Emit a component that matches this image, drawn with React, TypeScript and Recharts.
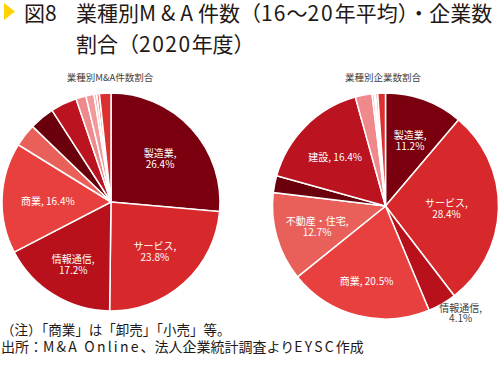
import { PieChart, Pie, Cell } from 'recharts'

const CATEGORIES = ['製造業', 'サービス', '情報通信', '商業', '不動産・住宅', '運輸', '建設', '金融', '電気・ガス', '農林水産', '鉱業', 'その他']
// 業種別M&A件数割合 (%)
const MA_SHARE = [26.4, 23.8, 17.2, 16.4, 3.4, 3.7, 3.9, 1.5, 1.2, 0.4, 0.4, 1.7]
// 業種別企業数割合 (%)
const COMPANY_SHARE = [11.2, 28.4, 4.1, 20.5, 12.7, 2.4, 16.4, 2.4, 0.3, 0.2, 0.3, 1.1]

const COLORS = ['#7a0010', '#d7282b', '#b8111c', '#e8403f', '#e9605a', '#6a000c', '#bb1320', '#f0898b', '#f29a9b', '#f6b3b3', '#ef7f80', '#dc2f2f']

const FONT = '"Noto Sans CJK JP", "Noto Sans", sans-serif'

type LabelLayout = { rf: number; wrap: boolean; outside?: boolean; dx?: number; dy?: number }

const MA_LABELS: Record<string, LabelLayout> = {
  製造業: { rf: 0.61, wrap: true },
  サービス: { rf: 0.6, wrap: true },
  情報通信: { rf: 0.66, wrap: true },
  商業: { rf: 0.58, wrap: false },
}

const COMPANY_LABELS: Record<string, LabelLayout> = {
  製造業: { rf: 0.63, wrap: true },
  サービス: { rf: 0.54, wrap: true },
  情報通信: { rf: 1.16, wrap: true, outside: true, dx: 9.5, dy: -7.5 },
  商業: { rf: 0.68, wrap: false },
  '不動産・住宅': { rf: 0.63, wrap: true },
  建設: { rf: 0.63, wrap: false },
}

const maData = CATEGORIES.map((name, i) => ({ name, value: MA_SHARE[i] }))
const companyData = CATEGORIES.map((name, i) => ({ name, value: COMPANY_SHARE[i] }))

const RAD = Math.PI / 180

function makeLabel(layout: Record<string, LabelLayout>) {
  return (props: any) => {
    const { cx, cy, midAngle, outerRadius, name, value } = props
    const l = layout[name]
    if (!l) return null
    const r = outerRadius * l.rf
    const x = cx + r * Math.cos(-midAngle * RAD) + (l.dx ?? 0)
    const y = cy + r * Math.sin(-midAngle * RAD) + (l.dy ?? 0)
    const fill = l.outside ? '#404040' : '#fff'
    const lines = l.wrap ? [`${name},`, `${value.toFixed(1)}%`] : [`${name}, ${value.toFixed(1)}%`]
    const lh = l.outside ? 10 : 11
    const y0 = y - ((lines.length - 1) * lh) / 2
    return (
      <text x={x} y={y0} fill={fill} fontSize={10} fontFamily={FONT} textAnchor="middle" dominantBaseline="central">
        {lines.map((t, i) => (
          <tspan key={i} x={x} dy={i === 0 ? 0 : lh}>
            {t}
          </tspan>
        ))}
      </text>
    )
  }
}

const wide = (t: string, ls: number) => <span style={{ letterSpacing: ls }}>{t}</span>

export default function App() {
  return (
    <div style={{ position: 'absolute', left: 0, top: 0, width: 500, height: 366, background: '#fff', fontFamily: FONT, color: '#231815', overflow: 'hidden' }}>
      <svg width={12} height={18} style={{ position: 'absolute', left: 4, top: 3 }}>
        <polygon points="0,0 11,8.5 0,17" fill="#ffd200" />
      </svg>
      <div style={{ position: 'absolute', left: 24, top: 0, fontSize: 21, lineHeight: '25px' }}>図{wide('8', 1)}</div>
      <div style={{ position: 'absolute', left: 76, top: 0, fontSize: 21, lineHeight: '25px', whiteSpace: 'nowrap' }}>
        業種別{wide('M&A', 5)}件数（{wide('16', 1)}～{wide('20', 2)}年平均）・企業数
      </div>
      <div style={{ position: 'absolute', left: 76, top: 30, fontSize: 21, lineHeight: '26px', whiteSpace: 'nowrap' }}>
        割合（{wide('2020', 1.5)}年度）
      </div>

      <div style={{ position: 'absolute', left: 10, width: 200, top: 70, textAlign: 'center', fontSize: 9.5, color: '#404040' }}>業種別M&amp;A件数割合</div>
      <div style={{ position: 'absolute', left: 283, width: 200, top: 70, textAlign: 'center', fontSize: 9.5, color: '#404040' }}>業種別企業数割合</div>

      <div style={{ position: 'absolute', left: 0, top: 0 }}>
        <PieChart width={500} height={330} margin={{ top: 0, right: 0, bottom: 0, left: 0 }}>
          <Pie
            data={maData}
            dataKey="value"
            nameKey="name"
            cx={111}
            cy={202}
            outerRadius={109}
            startAngle={90}
            endAngle={-270}
            stroke="#fff"
            strokeWidth={1.5}
            label={makeLabel(MA_LABELS)}
            labelLine={false}
            isAnimationActive={false}
          >
            {maData.map((d, i) => (
              <Cell key={d.name} fill={COLORS[i]} />
            ))}
          </Pie>
          <Pie
            data={companyData}
            dataKey="value"
            nameKey="name"
            cx={385.5}
            cy={206}
            outerRadius={113}
            startAngle={90}
            endAngle={-270}
            stroke="#fff"
            strokeWidth={1.5}
            label={makeLabel(COMPANY_LABELS)}
            labelLine={false}
            isAnimationActive={false}
          >
            {companyData.map((d, i) => (
              <Cell key={d.name} fill={COLORS[i]} />
            ))}
          </Pie>
        </PieChart>
      </div>

      <div style={{ position: 'absolute', left: 1, top: 321, fontSize: 13.5, lineHeight: '17px', whiteSpace: 'nowrap' }}>
        <div>（注）「商業」は「卸売」「小売」等。</div>
        <div style={{ fontSize: 14 }}>
          出所：{wide('M&A Online', 2.2)}、法人企業統計調査より{wide('EYSC', 2.2)}作成
        </div>
      </div>
    </div>
  )
}
